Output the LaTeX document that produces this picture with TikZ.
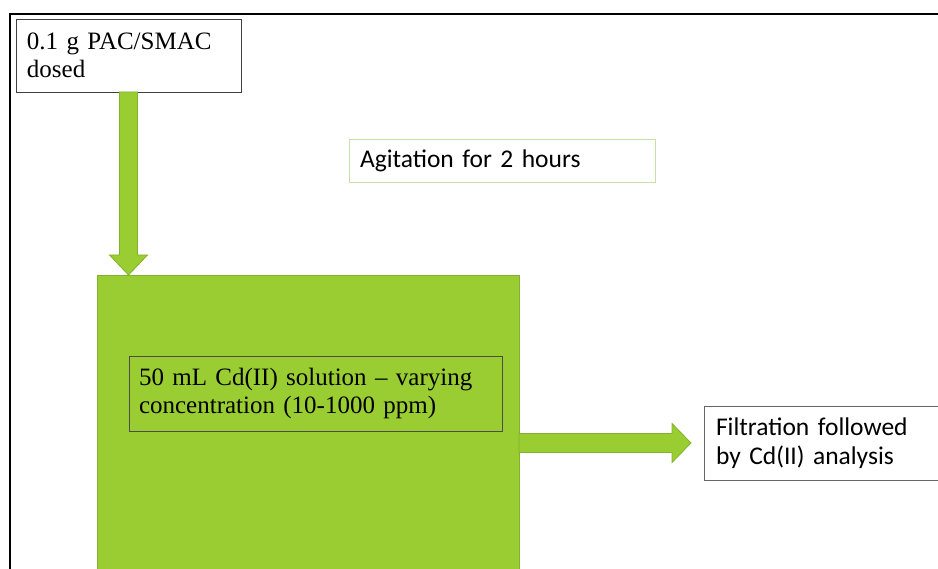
\documentclass[tikz,border=0pt]{standalone}
\usepackage{fontspec}
\setmainfont{Liberation Serif}
\newfontfamily\sansf[WordSpace={0.7}]{Carlito}
\usetikzlibrary{calc}
\definecolor{lg}{HTML}{9ACD32}
\definecolor{lgd}{HTML}{82B22C}
\definecolor{lgl}{HTML}{C8E2A4}
\begin{document}
\begin{tikzpicture}[x=1pt,y=1pt,
  box/.style={draw=black!75,line width=0.8pt,fill=white,anchor=north west,inner sep=0pt,outer sep=0pt},
  serif/.style={font=\fontsize{25}{28}\selectfont},
  sans/.style={font=\sansf\fontsize{25.5}{29.5}\selectfont},
  fatarrow/.style={fill=lg,draw=lgd,line width=0.8pt,line join=miter}]
\useasboundingbox (0,0) rectangle (938,-569);
\clip (0,0) rectangle (938,-569);
\draw[line width=1.5pt] (10,-575) -- (10,-14) -- (945,-14);
% tank
\node[box,fill=lg,draw=lgd,minimum width=422,minimum height=300] (tank) at (97,-275) {};
% inner label
\node[box,draw=black!70,fill=none,minimum width=373,minimum height=75,text width=353,align=left,inner xsep=10,serif] (sol) at (129,-356)
  {50 mL Cd(II) solution – varying\\concentration (10-1000 ppm)};
% dose box
\node[box,minimum width=225,minimum height=73,text width=203,align=left,inner xsep=11,serif] (dose) at (16,-19)
  {0.1 g PAC/SMAC\\dosed};
% agitation
\node[box,draw=lgl,minimum width=306,minimum height=43,text width=284,align=left,inner xsep=11,sans] (agit) at (349,-139)
  {Agitation for 2 hours};
% filtration
\node[box,draw=black!60,minimum width=245,minimum height=74,text width=221,align=left,inner xsep=12,sans] (filt) at (704,-406)
  {Filtration followed\\by Cd(II) analysis};
% down arrow
\coordinate (dt) at (dose.south |- tank.north);
\path[fatarrow] ($(dose.south)+(-9,0)$) -- ($(dt)+(-9,20)$) -- ($(dt)+(-19,20)$) -- (dt)
  -- ($(dt)+(19,20)$) -- ($(dt)+(9,20)$) -- ($(dose.south)+(9,0)$) -- cycle;
% right arrow
\coordinate (rs) at (tank.east |- filt.west);
\coordinate (rt) at ($(filt.west)+(-13,0)$);
\path[fatarrow] ($(rs)+(0,9.5)$) -- ($(rt)+(-19,9.5)$) -- ($(rt)+(-19,19.5)$) -- (rt)
  -- ($(rt)+(-19,-19.5)$) -- ($(rt)+(-19,-9.5)$) -- ($(rs)+(0,-9.5)$) -- cycle;
\end{tikzpicture}
\end{document}
